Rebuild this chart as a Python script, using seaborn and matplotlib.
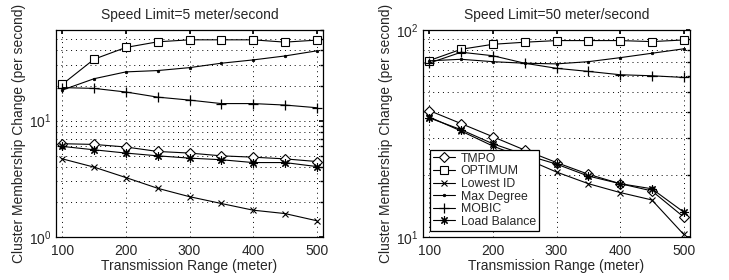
import numpy as np
import pandas as pd
import seaborn as sns
import matplotlib
matplotlib.use("Agg")
import matplotlib.pyplot as plt
from matplotlib.ticker import LogLocator, FixedLocator, NullFormatter

# ---- data ----
x_range = [100, 150, 200, 250, 300, 350, 400, 450, 500]
series_names = ["TMPO", "OPTIMUM", "Lowest ID", "Max Degree", "MOBIC", "Load Balance"]

tmpo5 = [6.33, 6.24, 5.93, 5.43, 5.26, 4.98, 4.85, 4.69, 4.45]
optimum5 = [20.5, 33.7, 42.5, 47.5, 49.4, 49.4, 49.4, 47.2, 49.1]
lowest5 = [4.69, 3.98, 3.24, 2.62, 2.22, 1.94, 1.70, 1.59, 1.38]
maxdeg5 = [18.3, 22.9, 26.2, 26.9, 28.5, 31.1, 33.2, 35.9, 39.7]
mobic5 = [19.2, 18.9, 17.6, 15.9, 15.0, 14.0, 14.0, 13.6, 12.9]
lb5 = [6.0, 5.61, 5.26, 4.98, 4.76, 4.61, 4.36, 4.36, 4.03]

tmpo50 = [40.8, 35.3, 30.5, 26.3, 22.9, 20.1, 18.1, 16.7, 12.5]
optimum50 = [71.2, 80.7, 85.3, 87.3, 88.9, 88.9, 88.9, 87.9, 89.5]
lowest50 = [38.0, 32.5, 27.5, 24.0, 20.6, 18.1, 16.4, 15.1, 10.3]
maxdeg50 = [71.0, 72.2, 70.3, 69.1, 68.6, 70.3, 73.5, 77.2, 81.1]
mobic50 = [69.2, 78.1, 75.1, 69.1, 65.3, 63.1, 60.8, 60.1, 59.0]
lb50 = [37.6, 33.0, 28.2, 25.0, 22.5, 19.7, 18.1, 17.1, 13.2]

titles = ["Speed Limit=5 meter/second", "Speed Limit=50 meter/second"]
xlabel = "Transmission Range (meter)"
ylabel = "Cluster Membership Change (per second)"

sns.set_theme(style="white")
plt.rcParams["font.family"] = ["Liberation Sans", "DejaVu Sans"]
plt.rcParams["mathtext.fontset"] = "custom"
plt.rcParams["mathtext.rm"] = "Liberation Sans"
plt.rcParams["mathtext.it"] = "Liberation Sans:italic"

styles = {
    "TMPO": dict(marker="D", markersize=5.5, markerfacecolor="white", markeredgewidth=0.8),
    "OPTIMUM": dict(marker="s", markersize=6, markerfacecolor="white", markeredgewidth=0.8),
    "Lowest ID": dict(marker="x", markersize=4.5, markeredgewidth=0.8),
    "Max Degree": dict(marker=".", markersize=3.5, markeredgewidth=0.6),
    "MOBIC": dict(marker="+", markersize=7, markeredgewidth=0.9),
    "Load Balance": dict(marker=(8, 2, 0), markersize=6, markeredgewidth=0.8),
}

fig = plt.figure(figsize=(7.29, 2.80), dpi=100)
ax1 = fig.add_axes([56/729, 1-237/280, 267/729, 207/280])
ax2 = fig.add_axes([423/729, 1-237/280, 267/729, 207/280])

data_sets = [
    [tmpo5, optimum5, lowest5, maxdeg5, mobic5, lb5],
    [tmpo50, optimum50, lowest50, maxdeg50, mobic50, lb50],
]
ylims = [(1, 60), (10, 100)]
dots = (0, (1, 4))

for ax, vals, title, yl in zip([ax1, ax2], data_sets, titles, ylims):
    for name, v in zip(series_names, vals):
        df = pd.DataFrame({"x": x_range, "y": v})
        sns.lineplot(data=df, x="x", y="y", ax=ax, color="black", linewidth=0.8,
                     markeredgecolor="black", label=name, **styles[name])
    ax.set_yscale("log")
    ax.set_xlim(90, 510)
    ax.set_ylim(*yl)
    ax.set_xticks([100, 200, 300, 400, 500])
    ax.xaxis.set_minor_locator(FixedLocator([]))
    ax.yaxis.set_major_locator(LogLocator(base=10, numticks=10))
    ax.yaxis.set_minor_locator(LogLocator(base=10, subs=np.arange(2, 10), numticks=20))
    ax.yaxis.set_minor_formatter(NullFormatter())
    ax.grid(True, which="major", axis="both", linestyle=dots, color="black", linewidth=0.7)
    ax.grid(True, which="minor", axis="y", linestyle=dots, color="black", linewidth=0.7)
    ax.set_axisbelow(True)
    ax.tick_params(axis="both", which="both", direction="in", labelsize=10, color="black",
                   top=True, right=True, length=3)
    ax.tick_params(axis="x", which="major", pad=5)
    ax.tick_params(axis="both", which="minor", length=2)
    for sp in ax.spines.values():
        sp.set_color("black")
        sp.set_linewidth(0.9)
    ax.set_title(title, fontsize=10, pad=8)
    ax.set_xlabel(xlabel, fontsize=10, labelpad=1)
    ax.set_ylabel(ylabel, fontsize=10, labelpad=2)
    if ax is ax1:
        ax.get_legend().remove()

leg = ax2.legend(loc="lower left", bbox_to_anchor=(0.025, 0.03), fontsize=8.8, frameon=True,
                 fancybox=False, edgecolor="black", framealpha=1, borderpad=0.25,
                 labelspacing=0.05, handlelength=1.8, handletextpad=0.5, borderaxespad=0.0)
leg.get_frame().set_linewidth(0.9)

fig.savefig("out.png", dpi=100)
